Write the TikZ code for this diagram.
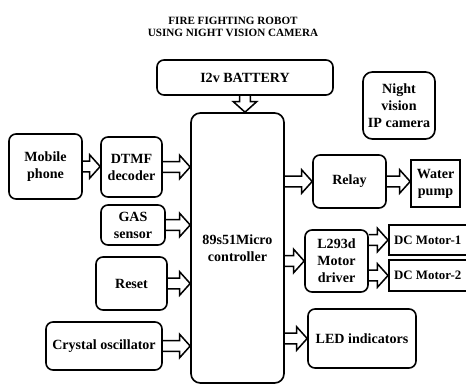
\documentclass[tikz,border=0pt]{standalone}
\usepackage{fontspec}
\setmainfont{Liberation Serif}
\usepackage{tikz}
\usetikzlibrary{calc}

\begin{document}
\begin{tikzpicture}[x=0.03cm,y=-0.03cm]
\tikzset{box/.style={draw,line width=1.4pt,rounded corners=6pt,inner sep=0pt,align=center,font=\bfseries\fontsize{12}{14.5}\selectfont},
  sqbox/.style={box,rounded corners=0pt},
  motor/.style={sqbox,anchor=west,align=flush left,inner xsep=0.16cm,text width=2.6cm,font=\bfseries\fontsize{11}{13}\selectfont},
  blk/.style={line width=1.3pt,line join=miter,to path={
    ($(\tikztostart)!4.5pt!90:(\tikztotarget)$) --
    ($(\tikztotarget)!9pt!(\tikztostart)!4.5pt!-90:(\tikztostart)$) --
    ($(\tikztotarget)!9pt!(\tikztostart)!10pt!-90:(\tikztostart)$) --
    (\tikztotarget) --
    ($(\tikztotarget)!9pt!(\tikztostart)!10pt!90:(\tikztostart)$) --
    ($(\tikztotarget)!9pt!(\tikztostart)!4.5pt!90:(\tikztostart)$) --
    ($(\tikztostart)!4.5pt!-90:(\tikztotarget)$)}}}
\useasboundingbox (0,0) rectangle (466,385);
% title
\node[align=center,font=\bfseries\fontsize{9.5}{10.5}\selectfont] (title) at (233,27) {FIRE FIGHTING  ROBOT\\USING NIGHT VISION CAMERA};
% the controller and its supply
\node[box,rounded corners=8pt,minimum width=2.79cm,minimum height=8.1cm] (micro) at (237.5,248) {89s51Micro\\controller};
\node[box,minimum width=5.28cm,minimum height=1.05cm] (battery) at (245,77.5) {I2v BATTERY};
\node[box,rounded corners=8pt,minimum width=2.16cm,minimum height=2.01cm] (night) at (399,105.5) {Night\\vision\\IP camera};
% inputs
\node[box,minimum width=2.19cm,minimum height=1.95cm] (mobile) at (45.5,166.5) {Mobile\\phone};
\node[box,minimum width=1.83cm,minimum height=1.8cm] (dtmf) at (131.5,167) {DTMF\\decoder};
\node[box,minimum width=1.92cm,minimum height=1.2cm] (gas) at (133,225) {GAS\\sensor};
\node[box,minimum width=2.13cm,minimum height=1.59cm] (reset) at (131.5,283.5) {Reset};
\node[box,minimum width=3.48cm,minimum height=1.44cm] (crystal) at (104,346) {Crystal oscillator};
% outputs
\node[box,minimum width=2.19cm,minimum height=1.59cm] (relay) at (349.5,181.5) {Relay};
\node[sqbox,minimum width=1.47cm,minimum height=1.41cm] (pump) at (435.5,183.5) {Water\\pump};
\node[box,minimum width=1.89cm,minimum height=1.86cm] (l293) at (336.5,261) {L293d\\Motor\\driver};
\node[motor,minimum height=0.9cm] (dc1) at (388,240) {DC Motor-1};
\node[motor,minimum height=0.93cm] (dc2) at (388,275.5) {DC Motor-2};
\node[box,minimum width=3.24cm,minimum height=1.77cm] (led) at (362,338.5) {LED indicators};
% block arrows
\draw[blk] (battery.south) to (battery.south |- micro.north);
\draw[blk] (mobile.east) to (mobile.east -| dtmf.west);
\foreach \s in {dtmf,gas,reset,crystal}
    \draw[blk] (\s.east) to (\s.east -| micro.west);
\foreach \t in {relay,l293,led}
    \draw[blk] (micro.east |- \t.west) to (\t.west);
\draw[blk] (relay.east) to (relay.east -| pump.west);
\draw[blk] (l293.east |- dc1.west) to (dc1.west);
\draw[blk] (l293.east |- dc2.west) to (dc2.west);
\end{tikzpicture}
\end{document}
